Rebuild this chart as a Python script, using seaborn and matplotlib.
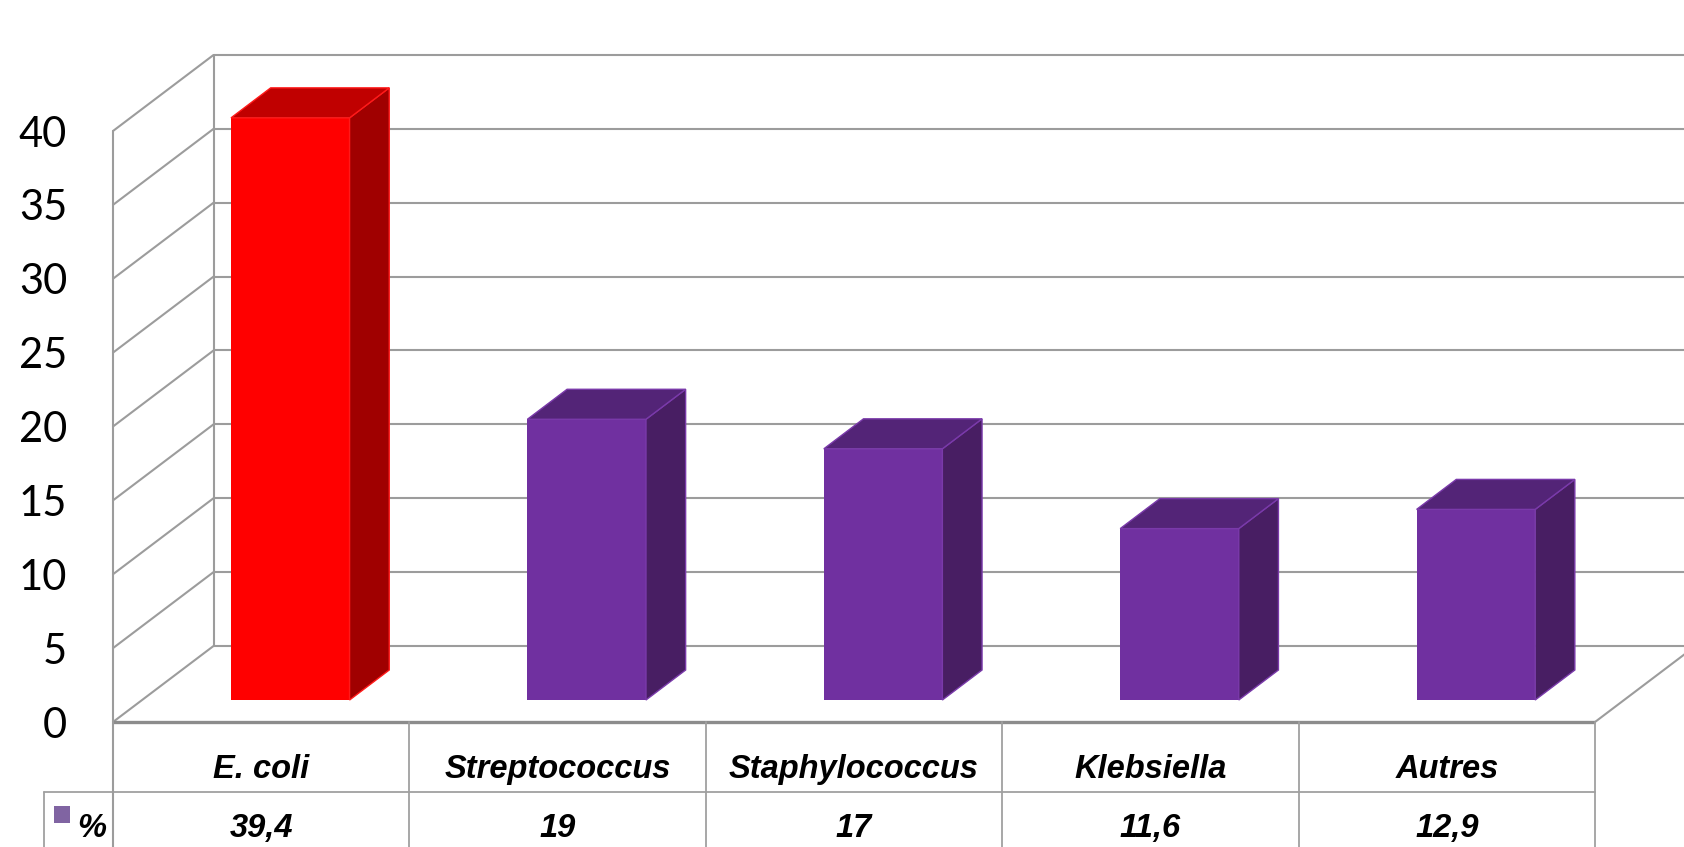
import matplotlib
matplotlib.use("Agg")
import matplotlib.pyplot as plt
from matplotlib.patches import Polygon, Rectangle
import seaborn as sns
import numpy as np

# ---- data ----
categories = ["E. coli", "Streptococcus", "Staphylococcus", "Klebsiella", "Autres"]
values = [39.4, 19, 17, 11.6, 12.9]
value_labels = ["39,4", "19", "17", "11,6", "12,9"]
series_name = "%"
yticks = [0, 5, 10, 15, 20, 25, 30, 35, 40]

front_colors = ["#FF0000", "#7030A0", "#7030A0", "#7030A0", "#7030A0"]
top_colors = ["#C00000", "#532477", "#532477", "#532477", "#532477"]
side_colors = ["#A00000", "#481E63", "#481E63", "#481E63", "#481E63"]
edge_colors = ["#FF1A1A", "#7A3AAA", "#7A3AAA", "#7A3AAA", "#7A3AAA"]

sns.set_style("white")
plt.rcParams["font.family"] = ["Lato", "DejaVu Sans"]

W, H = 1684, 847
fig = plt.figure(figsize=(W / 100, H / 100), dpi=100)
# axes = front plane of the floor
ax = fig.add_axes([113 / W, (H - 722) / H, (1595 - 113) / W, (722 - 131) / H])
ax.set_xlim(-0.5, len(categories) - 0.5)
ax.set_ylim(0, 40)

sns.barplot(x=categories, y=values, hue=categories, palette=front_colors,
            legend=False, width=0.4, saturation=1, ax=ax, zorder=4)

for s in ax.spines.values():
    s.set_visible(False)
ax.set_xticks([])
ax.set_xlabel("")
ax.set_ylabel("")
ax.set_yticks(yticks)
ax.set_yticklabels([str(t) for t in yticks], fontsize=30, family=["Lato", "DejaVu Sans"],
                   color="black")
ax.tick_params(axis="y", length=0, pad=33, colors="black")
ax.set_facecolor("none")
fig.patch.set_facecolor("white")

# pixel -> data scale
p0 = ax.transData.transform((0, 0))
p1 = ax.transData.transform((1, 1))
sx, sy = p1[0] - p0[0], p1[1] - p0[1]
Ddx, Ddy = 100.5 / sx, 76 / sy          # full depth of floor
f0, f1 = 22 / 76, 52 / 76                # bar front/back depth fractions

grid_c = "#9c9c9c"
glw = 1.5
x_left, x_right = -0.5, len(categories) - 0.5

# back wall gridlines + left wall diagonals
for t in yticks:
    ax.plot([x_left + Ddx, x_right + 2 * Ddx], [t + Ddy, t + Ddy], color=grid_c, lw=glw,
            clip_on=False, zorder=1, solid_capstyle="butt")
    ax.plot([x_left, x_left + Ddx], [t, t + Ddy], color=grid_c, lw=glw, clip_on=False, zorder=1)
# back wall left edge
ax.plot([x_left + Ddx, x_left + Ddx], [Ddy, 40 + Ddy], color=grid_c, lw=glw, clip_on=False, zorder=1)
# floor right edge
ax.plot([x_right, x_right + 2 * Ddx], [0, 2 * Ddy], color=grid_c, lw=glw, clip_on=False, zorder=1)

# ---- 3D bars ----
for i, p in enumerate(ax.patches[:len(categories)]):
    x0, w, h = p.get_x(), p.get_width(), p.get_height()
    xf, yf = x0 + f0 * Ddx, f0 * Ddy
    p.set_x(xf)
    p.set_y(yf)
    p.set_clip_on(False)
    p.set_edgecolor("none")
    ddx, ddy = (f1 - f0) * Ddx, (f1 - f0) * Ddy
    top = Polygon([(xf, yf + h), (xf + w, yf + h), (xf + w + ddx, yf + h + ddy), (xf + ddx, yf + h + ddy)],
                  closed=True, facecolor=top_colors[i], edgecolor=edge_colors[i], lw=1.0,
                  clip_on=False, zorder=5)
    side = Polygon([(xf + w, yf), (xf + w + ddx, yf + ddy), (xf + w + ddx, yf + h + ddy), (xf + w, yf + h)],
                   closed=True, facecolor=side_colors[i], edgecolor=edge_colors[i], lw=1.0,
                   clip_on=False, zorder=5)
    ax.add_patch(side)
    ax.add_patch(top)

# ---- data table ----
tbl_c = "#a0a0a0"
row1 = -(792 - 722) / sy
bottom = -(H - 722 + 5) / sy
leg_left = x_left - (113 - 44) / sx
# floor front edge / table top
ax.plot([x_left, x_right], [0, 0], color="#8c8c8c", lw=2.4, clip_on=False, zorder=2,
        solid_capstyle="butt")
ax.plot([leg_left, x_right], [row1, row1], color=tbl_c, lw=1.3, clip_on=False, zorder=2)
ax.plot([x_left, x_left], [40, bottom], color=grid_c, lw=glw, clip_on=False, zorder=2)
for k in range(1, len(categories) + 1):
    xx = x_left + k
    ax.plot([xx, xx], [0, bottom], color=tbl_c, lw=1.3, clip_on=False, zorder=2)
ax.plot([leg_left, leg_left], [row1, bottom], color=tbl_c, lw=1.3, clip_on=False, zorder=2)

tfont = dict(family=["Liberation Sans", "DejaVu Sans"], fontsize=23.5, fontweight="bold",
             fontstyle="italic", color="black")
y_hdr = -(778 - 722) / sy
y_val = -(837 - 722) / sy
for i, (c, v) in enumerate(zip(categories, value_labels)):
    ax.text(i, y_hdr, c, ha="center", va="baseline", clip_on=False, **tfont)
    ax.text(i, y_val, v, ha="center", va="baseline", clip_on=False, **tfont)

# legend key in the table
ax.add_patch(Rectangle((x_left - (113 - 53.5) / sx, -(823 - 722) / sy), 16.5 / sx, 17 / sy,
                       facecolor="#8064A2", edgecolor="none", clip_on=False, zorder=3))
ax.text(x_left - (113 - 92) / sx, y_val, series_name, ha="center", va="baseline",
        clip_on=False, **tfont)

fig.savefig("out.png", dpi=100, facecolor="white")
